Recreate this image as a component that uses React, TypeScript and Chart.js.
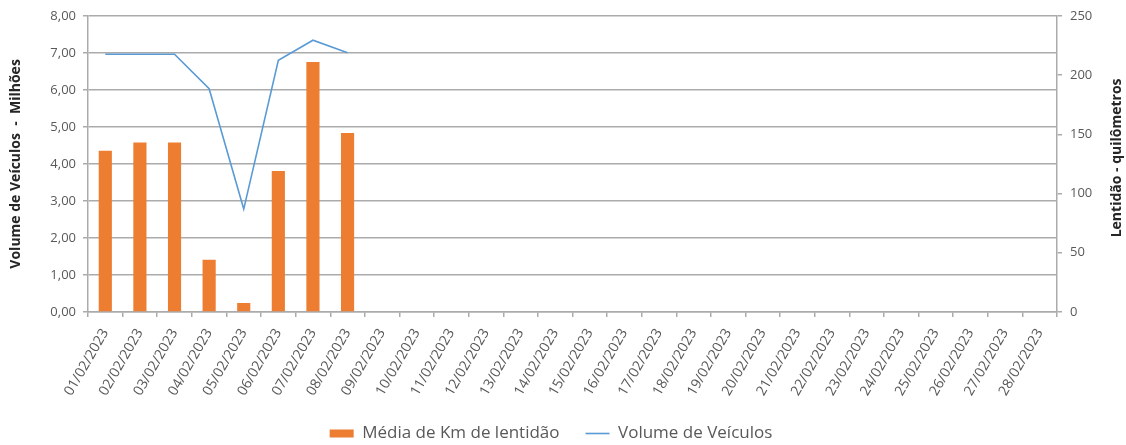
import React, { useEffect, useRef } from "react";
import { Chart, registerables } from "chart.js";

Chart.register(...registerables);

const categories = [
  "01/02/2023", "02/02/2023", "03/02/2023", "04/02/2023", "05/02/2023", "06/02/2023", "07/02/2023",
  "08/02/2023", "09/02/2023", "10/02/2023", "11/02/2023", "12/02/2023", "13/02/2023", "14/02/2023",
  "15/02/2023", "16/02/2023", "17/02/2023", "18/02/2023", "19/02/2023", "20/02/2023", "21/02/2023",
  "22/02/2023", "23/02/2023", "24/02/2023", "25/02/2023", "26/02/2023", "27/02/2023", "28/02/2023",
];

// Média de Km de lentidão (right axis, km)
const lentidaoKm = [136, 143, 143, 44, 7.5, 119, 211, 151];
// Volume de Veículos (left axis, millions)
const volumeVeiculos = [6.96, 6.96, 6.96, 6.03, 2.78, 6.8, 7.34, 7.0];

const leftTicks = [0, 1, 2, 3, 4, 5, 6, 7, 8];
const rightTicks = [0, 50, 100, 150, 200, 250];

const rightTitle = "Lentidão - quilômetros";

const FONT = "'Open Sans', 'Noto Sans', sans-serif";
const GRID = "#ababab";
const TEXT = "#595959";
const TITLE = "#262626";

// right axis title, reading bottom-to-top like the left one
const rightTitlePlugin = {
  id: "rightTitle",
  afterLayout(chart: any) {
    // legend sits slightly left of the canvas centre in the original
    if (chart.legend) {
      chart.legend.left -= 16;
      chart.legend.right -= 16;
    }
  },
  afterDraw(chart: any) {
    const { ctx, chartArea } = chart;
    ctx.save();
    ctx.font = `bold 14px ${FONT}`;
    ctx.fillStyle = TITLE;
    ctx.textAlign = "center";
    ctx.textBaseline = "middle";
    ctx.translate(chart.width - 9, (chartArea.top + chartArea.bottom) / 2 - 6);
    ctx.rotate(-Math.PI / 2);
    ctx.fillText(rightTitle, 0, 0);
    ctx.restore();
  },
};

export default function App() {
  const ref = useRef<HTMLCanvasElement | null>(null);

  useEffect(() => {
    document.body.style.margin = "0";
    const pad = (arr: number[]) => categories.map((_, i) => (i < arr.length ? arr[i] : null));
    const chart = new Chart(ref.current!, {
      data: {
        labels: categories,
        datasets: [
          {
            type: "bar",
            label: "Média de Km de lentidão",
            data: pad(lentidaoKm),
            backgroundColor: "#ED7D31",
            borderWidth: 0,
            yAxisID: "y1",
            barPercentage: 0.38,
            categoryPercentage: 1,
            pointStyle: "rect",
          },
          {
            type: "line",
            label: "Volume de Veículos",
            data: pad(volumeVeiculos),
            borderColor: "#5B9BD5",
            backgroundColor: "#5B9BD5",
            borderWidth: 1.6,
            pointRadius: 0,
            tension: 0,
            yAxisID: "y",
            pointStyle: "line",
          },
        ],
      },
      options: {
        animation: false,
        responsive: false,
        maintainAspectRatio: false,
        layout: { padding: { top: 0, bottom: -7, left: 8, right: 0 } },
        plugins: {
          tooltip: { enabled: false },
          legend: {
            position: "bottom",
            labels: {
              usePointStyle: true,
              pointStyleWidth: 24,
              boxHeight: 8,
              padding: 26,
              color: TEXT,
              font: { family: FONT, size: 17 },
            },
          },
        },
        scales: {
          x: {
            type: "category",
            offset: true,
            grid: {
              offset: true,
              drawOnChartArea: false,
              drawTicks: true,
              tickLength: 5,
              color: GRID,
              lineWidth: 1.5,
            },
            border: { color: GRID, width: 1.5 },
            ticks: {
              autoSkip: false,
              minRotation: 60,
              maxRotation: 60,
              color: TEXT,
              font: { family: FONT, size: 14 },
              padding: 9,
            },
            afterFit: (s: any) => {
              s.height = 87;
            },
          },
          y: {
            type: "linear",
            position: "left",
            min: 0,
            max: 8,
            afterBuildTicks: (s: any) => {
              s.ticks = leftTicks.map((v) => ({ value: v }));
            },
            grid: { color: GRID, lineWidth: 1.5, tickLength: 5 },
            border: { color: GRID, width: 1.5 },
            ticks: {
              color: TEXT,
              font: { family: FONT, size: 13 },
              padding: 7,
              callback: (v: any) => Number(v).toFixed(2).replace(".", ","),
            },
            title: {
              display: true,
              text: "Volume de Veículos  -  Milhões",
              color: TITLE,
              font: { family: FONT, size: 14, weight: "bold" },
              padding: { top: 0, bottom: 4 },
            },
            afterFit: (s: any) => {
              s.width = 80;
            },
          },
          y1: {
            type: "linear",
            position: "right",
            min: 0,
            max: 250,
            afterBuildTicks: (s: any) => {
              s.ticks = rightTicks.map((v) => ({ value: v }));
            },
            grid: { drawOnChartArea: false, color: GRID, lineWidth: 1.5, tickLength: 5 },
            border: { color: GRID, width: 1.5 },
            ticks: {
              color: TEXT,
              font: { family: FONT, size: 13 },
              padding: 8,
            },
            afterFit: (s: any) => {
              s.width = 69;
            },
          },
        },
      },
      plugins: [rightTitlePlugin],
    });
    return () => chart.destroy();
  }, []);

  return (
    <div style={{ width: 1126, height: 445 }}>
      <canvas ref={ref} width={1126} height={445} style={{ width: 1126, height: 445 }} />
    </div>
  );
}
